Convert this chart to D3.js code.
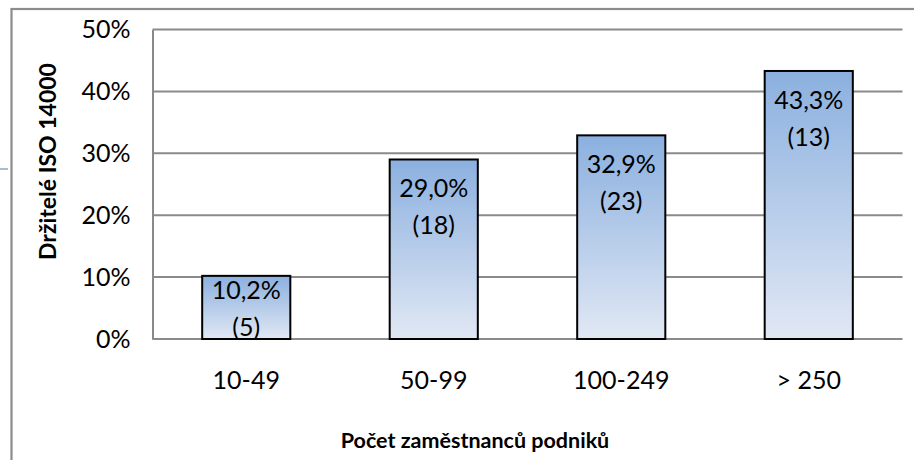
<!DOCTYPE html>
<html>
<head>
<meta charset="utf-8">
<script src="https://cdn.jsdelivr.net/npm/d3@7"></script>
<style>
  body { margin: 0; background: #fff; }
  text { font-family: Lato, "Open Sans", sans-serif; fill: #000; }
</style>
</head>
<body>
<div class="container"></div>
<script>
// chart data
const categories = ["10-49", "50-99", "100-249", "> 250"]
const shares = [0.102, 0.290, 0.329, 0.433]
const counts = [5, 18, 23, 13]
const yTicks = [0, 0.1, 0.2, 0.3, 0.4, 0.5]

const w = 914
const h = 460
const plot = { left: 152.5, right: 902.5, top: 29.5, bottom: 339 }

const svg = d3.select('.container')
  .append('svg')
  .attr('width', w)
  .attr('height', h)

// gradient for the bars
const grad = svg.append('defs')
  .append('linearGradient')
  .attr('id', 'barFill')
  .attr('x1', 0).attr('y1', 0)
  .attr('x2', 0).attr('y2', 1)
grad.append('stop').attr('offset', '0%').attr('stop-color', '#8bb0df')
grad.append('stop').attr('offset', '100%').attr('stop-color', '#e1e8f4')

// outer chart border (runs off the right and bottom edge)
svg.append('rect')
  .attr('x', 11.5)
  .attr('y', 9)
  .attr('width', 960)
  .attr('height', 500)
  .attr('fill', 'none')
  .attr('stroke', '#8c8c8c')
  .attr('stroke-width', 2.2)

// stray line on the left
svg.append('line')
  .attr('x1', 0).attr('x2', 8)
  .attr('y1', 169).attr('y2', 169)
  .attr('stroke', '#a5bdd6')
  .attr('stroke-width', 2)

const xScale = d3.scaleBand()
  .domain(categories)
  .range([plot.left, plot.right])
  .paddingInner(0.53)
  .paddingOuter(0.265)

const yScale = d3.scaleLinear()
  .domain([0, 0.5])
  .range([plot.bottom, plot.top])

// gridlines
svg.append('g')
  .selectAll('line')
  .data(yTicks)
  .enter()
  .append('line')
  .attr('x1', plot.left)
  .attr('x2', plot.right)
  .attr('y1', d => yScale(d))
  .attr('y2', d => yScale(d))
  .attr('stroke', '#8a8a8a')
  .attr('stroke-width', 2)

// y axis
const yAxis = d3.axisLeft(yScale)
  .tickValues(yTicks)
  .tickSize(0)
  .tickPadding(22)
  .tickFormat(d => Math.round(d * 100) + '%')

svg.append('g')
  .attr('transform', 'translate(' + plot.left + ',0)')
  .call(yAxis)
  .call(g => g.select('.domain').attr('stroke', '#8a8a8a').attr('stroke-width', 2))
  .call(g => g.selectAll('text').style('font-size', '25px'))

// x axis
const xAxis = d3.axisBottom(xScale)
  .tickSize(0)
  .tickPadding(32)

svg.append('g')
  .attr('transform', 'translate(0,' + plot.bottom + ')')
  .call(xAxis)
  .call(g => g.select('.domain').remove())
  .call(g => g.selectAll('text').style('font-size', '25px'))

// bars
const bars = svg.append('g')
  .selectAll('g')
  .data(categories)
  .enter()
  .append('g')

bars.append('rect')
  .attr('x', d => xScale(d))
  .attr('y', (d, i) => yScale(shares[i]))
  .attr('width', xScale.bandwidth())
  .attr('height', (d, i) => yScale(0) - yScale(shares[i]))
  .attr('fill', 'url(#barFill)')
  .attr('stroke', '#000')
  .attr('stroke-width', 2)

// value labels, inside the top of each bar
const labelY = i => {
  const top = yScale(shares[i])
  const mid = (top + yScale(0)) / 2
  return Math.min(top + 38, mid - 8)
}

bars.append('text')
  .attr('x', d => xScale(d) + xScale.bandwidth() / 2)
  .attr('y', (d, i) => labelY(i))
  .attr('text-anchor', 'middle')
  .style('font-size', '25px')
  .text((d, i) => d3.format('.1f')(shares[i] * 100).replace('.', ',') + '%')

bars.append('text')
  .attr('x', d => xScale(d) + xScale.bandwidth() / 2)
  .attr('y', (d, i) => labelY(i) + 37)
  .attr('text-anchor', 'middle')
  .style('font-size', '25px')
  .text((d, i) => '(' + counts[i] + ')')

// axis titles
svg.append('text')
  .attr('transform', 'translate(56,161.5) rotate(-90)')
  .attr('text-anchor', 'middle')
  .style('font-size', '23px')
  .style('font-weight', 'bold')
  .text('Držitelé ISO 14000')

svg.append('text')
  .attr('x', 475)
  .attr('y', 448)
  .attr('text-anchor', 'middle')
  .style('font-size', '21.5px')
  .style('font-weight', 'bold')
  .text('Počet zaměstnanců podniků')
</script>
</body>
</html>
